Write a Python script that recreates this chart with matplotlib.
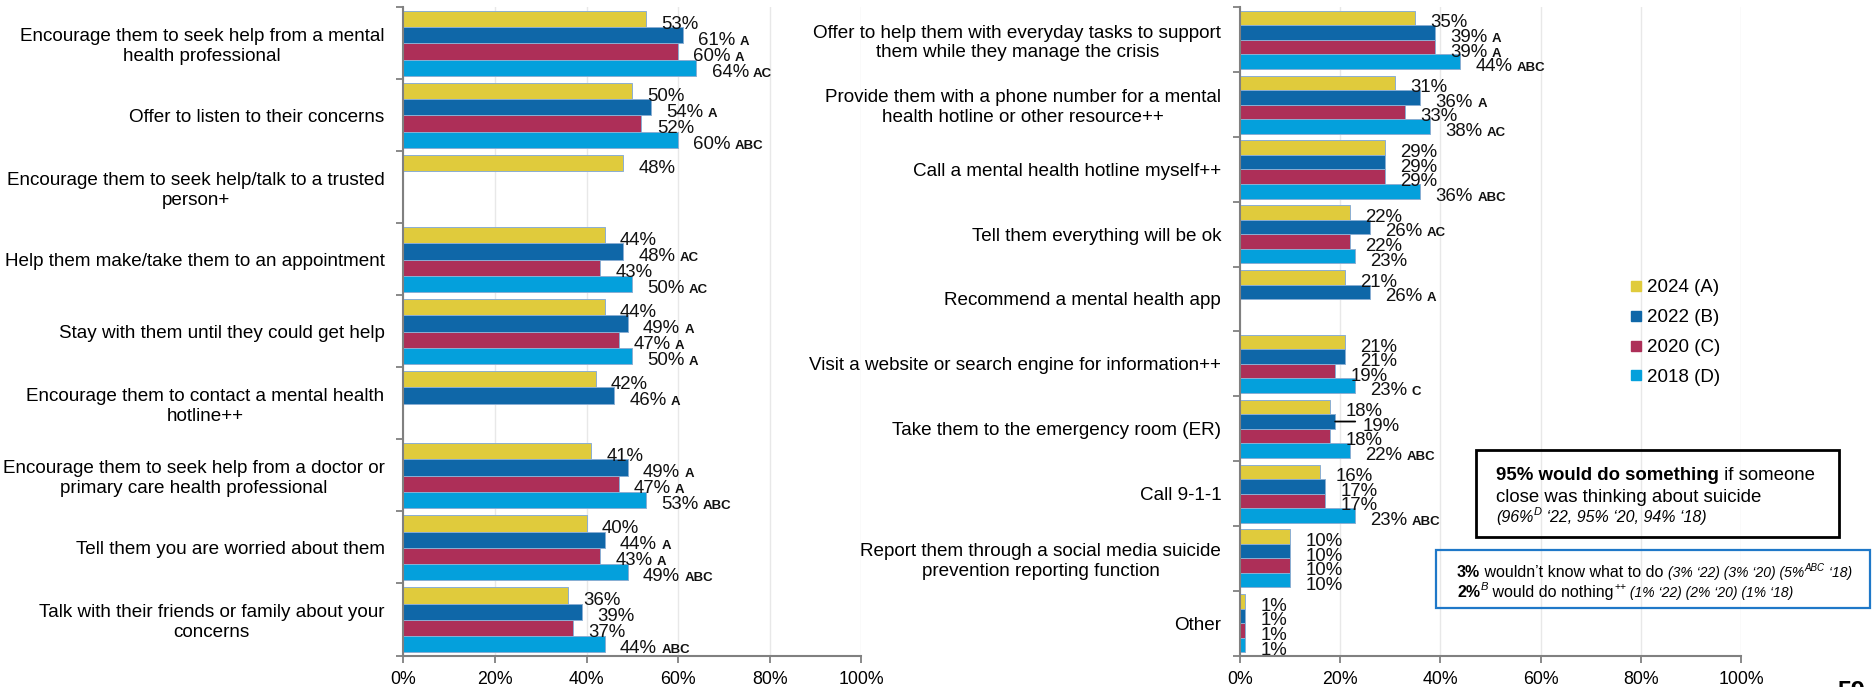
import matplotlib.pyplot as plt
from matplotlib.lines import Line2D
import numpy as np

plt.rcParams['font.family'] = ['Liberation Sans', 'DejaVu Sans']

years = ["2024 (A)", "2022 (B)", "2020 (C)", "2018 (D)"]
colors = ["#E0CB3C", "#0F67A8", "#AD2F58", "#04A0DC"]

left_cats = [
    "Encourage them to seek help from a mental\nhealth professional",
    "Offer to listen to their concerns",
    "Encourage them to seek help/talk to a trusted\nperson+",
    "Help them make/take them to an appointment",
    "Stay with them until they could get help",
    "Encourage them to contact a mental health\nhotline++",
    "Encourage them to seek help from a doctor or\nprimary care health professional",
    "Tell them you are worried about them",
    "Talk with their friends or family about your\nconcerns",
]
left_2024 = [53, 50, 48, 44, 44, 42, 41, 40, 36]
left_2022 = [61, 54, None, 48, 49, 46, 49, 44, 39]
left_2020 = [60, 52, None, 43, 47, None, 47, 43, 37]
left_2018 = [64, 60, None, 50, 50, None, 53, 49, 44]
left_sig = [
    ["", "A", "A", "AC"],
    ["", "A", "", "ABC"],
    ["", "", "", ""],
    ["", "AC", "", "AC"],
    ["", "A", "A", "A"],
    ["", "A", "", ""],
    ["", "A", "A", "ABC"],
    ["", "A", "A", "ABC"],
    ["", "", "", "ABC"],
]

right_cats = [
    "Offer to help them with everyday tasks to support\nthem while they manage the crisis",
    "Provide them with a phone number for a mental\nhealth hotline or other resource++",
    "Call a mental health hotline myself++",
    "Tell them everything will be ok",
    "Recommend a mental health app",
    "Visit a website or search engine for information++",
    "Take them to the emergency room (ER)",
    "Call 9-1-1",
    "Report them through a social media suicide\nprevention reporting function",
    "Other",
]
right_2024 = [35, 31, 29, 22, 21, 21, 18, 16, 10, 1]
right_2022 = [39, 36, 29, 26, 26, 21, 19, 17, 10, 1]
right_2020 = [39, 33, 29, 22, None, 19, 18, 17, 10, 1]
right_2018 = [44, 38, 36, 23, None, 23, 22, 23, 10, 1]
right_sig = [
    ["", "A", "A", "ABC"],
    ["", "A", "", "AC"],
    ["", "", "", "ABC"],
    ["", "AC", "", ""],
    ["", "A", "", ""],
    ["", "", "", "C"],
    ["", "", "", "ABC"],
    ["", "", "", "ABC"],
    ["", "", "", ""],
    ["", "", "", ""],
]

W, H = 1872, 687
fig = plt.figure(figsize=(W / 100, H / 100), dpi=100)
ax_l = fig.add_axes([0.21544, 0.04585, 0.24466, 0.94367])
ax_r = fig.add_axes([0.66239, 0.04585, 0.26763, 0.94367])

bar_h = 0.224
top_gap = 0.055


def draw_panel(ax, cats, series, sig, leader=None):
    n = len(cats)
    for j, vals in enumerate(series):
        for i, v in enumerate(vals):
            if v is None:
                continue
            y = i + top_gap + bar_h * (j + 0.5)
            ax.barh(y, v, height=bar_h, color=colors[j], edgecolor="#8aaed3",
                    linewidth=0.7, zorder=2)
            dx = 11
            if leader == (i, j):
                # label pushed out a little, with a short leader line
                dx = 20
                ax.annotate("", xy=(v, y), xytext=(v + 4, y),
                            arrowprops=dict(arrowstyle="-", color="black", lw=1.3,
                                            shrinkA=0, shrinkB=0))
            t = ax.annotate(f"{v}%", xy=(v, y), xytext=(dx, -6.8),
                            textcoords="offset points", va="baseline", ha="left",
                            fontsize=13.4, color="#111111")
            if sig[i][j]:
                ax.annotate(sig[i][j], xy=(1, y), xycoords=(t, "data"),
                            xytext=(3, -6.8), textcoords="offset points",
                            va="baseline", ha="left", fontsize=9.5,
                            fontweight="bold", color="#111111")
    ax.set_ylim(n, 0)
    ax.set_xlim(0, 100)
    ax.set_yticks(np.arange(n) + 0.5, labels=cats)
    ax.set_yticks(np.arange(n + 1), minor=True)
    ax.tick_params(axis="y", which="major", length=0, pad=13.5, labelsize=13.6)
    ax.tick_params(axis="y", which="minor", length=5, width=1.3, color="#808080")
    for lbl in ax.get_yticklabels():
        lbl.set_multialignment("center")
    ax.set_xticks(np.arange(0, 101, 20), labels=[f"{x}%" for x in range(0, 101, 20)])
    ax.tick_params(axis="x", length=5, width=1.3, color="#808080", labelsize=12.8, pad=6)
    ax.grid(axis="x", color="#e8e8e8", linewidth=1, zorder=0)
    ax.set_axisbelow(True)
    for s in ["top", "right"]:
        ax.spines[s].set_visible(False)
    for s in ["left", "bottom"]:
        ax.spines[s].set_color("#808080")
        ax.spines[s].set_linewidth(1.5)


draw_panel(ax_l, left_cats, [left_2024, left_2022, left_2020, left_2018], left_sig)
draw_panel(ax_r, right_cats, [right_2024, right_2022, right_2020, right_2018], right_sig,
           leader=(6, 1))

handles = [Line2D([], [], marker="s", linestyle="none", markersize=7,
                  markerfacecolor=c, markeredgecolor=c) for c in colors]
fig.legend(handles, years, loc="upper left", bbox_to_anchor=(0.871, 0.5935),
           frameon=False, fontsize=13.5, handlelength=0.6, handletextpad=0.3,
           labelspacing=0.68, borderpad=0, borderaxespad=0)


def text_run(x, y, pieces):
    """Write styled text pieces one after another on a shared baseline.
    A piece may carry 'rise' (points) to sit as a superscript."""
    yf = 1 - y / H
    first = dict(pieces[0][1])
    prev = fig.text(x / W, yf, pieces[0][0], va="baseline", **first)
    for s, kw in pieces[1:]:
        kw = dict(kw)
        rise = kw.pop("rise", 0)
        prev = fig.add_artist(plt.Annotation(
            s, xy=(1, yf), xycoords=(prev, "figure fraction"),
            xytext=(0.5 if rise else 0, rise), textcoords="offset points",
            va="baseline", ha="left", **kw))
    return prev


# summary boxes
fig.patches.append(plt.Rectangle((1476 / W, 1 - 537 / H), 363 / W, 87 / H,
                                 transform=fig.transFigure, fill=False,
                                 edgecolor="black", linewidth=2))
text_run(1496, 480, [("95% would do something", dict(fontsize=13.4, fontweight="bold")),
                     (" if someone", dict(fontsize=13.4))])
text_run(1496, 502, [("close was thinking about suicide", dict(fontsize=13.4))])
text_run(1496, 522, [("(96%", dict(fontsize=11.5, style="italic")),
                     ("D", dict(fontsize=8, style="italic", rise=5)),
                     (" ‘22, 95% ‘20, 94% ‘18)", dict(fontsize=11.5, style="italic"))])

fig.patches.append(plt.Rectangle((1436 / W, 1 - 608 / H), 434 / W, 58 / H,
                                 transform=fig.transFigure, fill=False,
                                 edgecolor="#1f78c8", linewidth=1.6))
text_run(1457, 577, [("3%", dict(fontsize=11.5, fontweight="bold")),
                     (" wouldn’t know what to do ", dict(fontsize=11.5)),
                     ("(3% ‘22) (3% ‘20) (5%", dict(fontsize=10, style="italic")),
                     ("ABC", dict(fontsize=7, style="italic", rise=4.5)),
                     (" ‘18)", dict(fontsize=10, style="italic"))])
text_run(1457, 597, [("2%", dict(fontsize=11.5, fontweight="bold")),
                     ("B", dict(fontsize=8, style="italic", rise=5)),
                     (" would do nothing", dict(fontsize=11.5)),
                     ("++", dict(fontsize=7.5, rise=5)),
                     (" (1% ‘22) (2% ‘20) (1% ‘18)", dict(fontsize=10, style="italic"))])

fig.text(1837 / W, 1 - 680 / H, "59", fontsize=18, fontweight="bold", va="top")

fig.savefig("out.png", dpi=100)
